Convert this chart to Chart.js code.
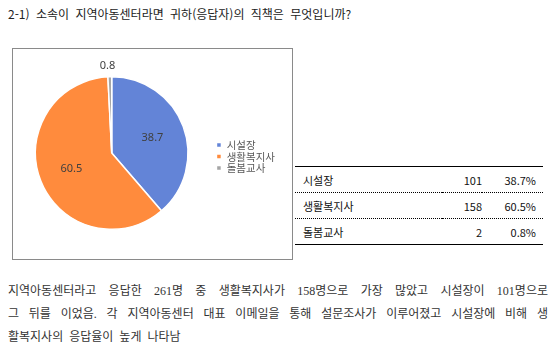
<!DOCTYPE html>
<html lang="ko">
<head>
<meta charset="utf-8">
<script src="https://cdn.jsdelivr.net/npm/chart.js@4"></script>
<style>
  html, body { margin: 0; padding: 0; background: #fff; }
  body { width: 554px; height: 358px; position: relative; overflow: hidden; font-family: "Noto Sans CJK KR", sans-serif; color: #222; }
  #title { position: absolute; left: 8px; top: 5px; font-size: 12px; line-height: 18px; white-space: nowrap; word-spacing: 3px; }
  #frame { position: absolute; left: 12px; top: 48px; width: 279px; height: 210px; border: 1px solid #8a8a8a; }
  #chartWrap { position: absolute; left: 0; top: 49px; width: 291px; height: 210px; }
  #tbl { position: absolute; left: 295px; top: 166px; width: 248px; border-collapse: collapse; font-size: 11px; color: #111; table-layout: fixed; }
  #tbl tr { border-bottom: 1px dotted #000; }
  #tbl tr:first-child { border-top: 1px solid #000; }
  #tbl tr:last-child { border-bottom: 1px solid #000; }
  #tbl td { height: 25px; padding: 0; }
  #tbl td.name { padding-left: 8px; }
  #tbl td.num, #tbl td.pct { text-align: right; }
  #tbl td.pct { padding-right: 7px; }
  #para { position: absolute; left: 8px; top: 280px; width: 540px; font-family: "Liberation Serif", "Noto Sans CJK KR", serif; font-size: 12px; color: #333; }
  #para div { height: 23px; line-height: 23px; white-space: nowrap; }
  #para div.j { text-align: justify; text-align-last: justify; white-space: normal; }
  #para div.last { word-spacing: 3px; }
</style>
</head>
<body>
<div id="title">2-1) 소속이 지역아동센터라면 귀하(응답자)의 직책은 무엇입니까?</div>
<div id="frame"></div>
<div id="chartWrap"><canvas id="pieChart" width="291" height="210"></canvas></div>
<table id="tbl">
  <colgroup><col style="width:147px"><col style="width:40px"><col style="width:61px"></colgroup>
  <tbody id="tblBody"></tbody>
</table>
<div id="para">
  <div class="j">지역아동센터라고 응답한 261명 중 생활복지사가 158명으로 가장 많았고 시설장이 101명으로</div>
  <div class="j">그 뒤를 이었음. 각 지역아동센터 대표 이메일을 통해 설문조사가 이루어졌고 시설장에 비해 생</div>
  <div class="last">활복지사의 응답율이 높게 나타남</div>
</div>
<script>
const categories = ['시설장', '생활복지사', '돌봄교사'];
const counts = [101, 158, 2];
const percents = [38.7, 60.5, 0.8];
const colors = ['#6384d7', '#ff8b3d', '#a5a5a5'];

// 표
const tbody = document.getElementById('tblBody');
categories.forEach((name, i) => {
  const tr = document.createElement('tr');
  tr.innerHTML = '<td class="name">' + name + '</td><td class="num">' + counts[i] +
    '</td><td class="pct">' + percents[i].toFixed(1) + '%</td>';
  tbody.appendChild(tr);
});

// 조각 라벨
const sliceLabels = {
  id: 'sliceLabels',
  afterDatasetsDraw(chart) {
    const ctx = chart.ctx;
    const meta = chart.getDatasetMeta(0);
    ctx.save();
    ctx.font = '11px "Noto Sans", sans-serif';
    ctx.fillStyle = '#404040';
    ctx.textAlign = 'center';
    ctx.textBaseline = 'middle';
    meta.data.forEach((arc, i) => {
      const p = arc.getProps(['x', 'y', 'startAngle', 'endAngle', 'outerRadius'], true);
      const mid = (p.startAngle + p.endAngle) / 2;
      const small = percents[i] < 5;
      const r = small ? p.outerRadius + 11 : p.outerRadius * 0.57;
      ctx.fillText(percents[i].toFixed(1), p.x + Math.cos(mid) * r - (small ? 2 : 0), p.y + Math.sin(mid) * r);
    });
    ctx.restore();
  }
};

const ctx = document.getElementById('pieChart').getContext('2d');
new Chart(ctx, {
  type: 'pie',
  data: {
    labels: categories,
    datasets: [{
      data: percents,
      backgroundColor: colors,
      borderColor: '#ffffff',
      borderWidth: 1.5
    }]
  },
  options: {
    responsive: false,
    animation: false,
    layout: { padding: { left: 8, right: 6, top: 27, bottom: 29 } },
    plugins: {
      legend: {
        position: 'right',
        // 빈 제목으로 범례를 약간 아래로
        title: { display: true, text: '', font: { size: 1 }, padding: { top: 3, bottom: 3 } },
        labels: {
          boxWidth: 5,
          boxHeight: 5,
          padding: 1,
          color: '#595959',
          font: { size: 10.5, family: '"Noto Sans CJK KR", sans-serif' }
        }
      },
      tooltip: { enabled: false }
    }
  },
  plugins: [sliceLabels]
});
</script>
</body>
</html>
